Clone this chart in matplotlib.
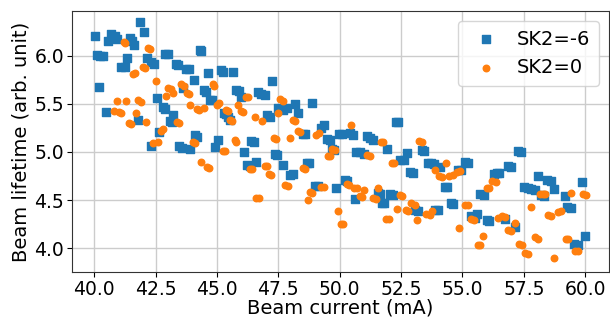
import matplotlib
matplotlib.use("Agg")
import matplotlib.pyplot as plt
import numpy as np

# SK2=-6 (blue squares)
x_sk2_m6 = [40.03, 40.10, 40.22, 40.35, 40.20, 40.46, 40.56, 40.70, 40.83, 40.94,
            41.07, 41.24, 41.34, 41.45, 41.52, 41.63, 41.79, 41.87, 42.01, 42.14,
            42.31, 42.33, 42.45, 42.54, 42.62, 42.80, 42.87, 42.90, 43.00, 43.07,
            43.16, 43.21, 43.31, 43.40, 43.44, 43.56, 43.62, 43.72, 43.84, 43.89,
            44.05, 44.12, 44.19, 44.30, 44.36, 44.46, 44.56, 44.62, 44.71, 44.78,
            44.90, 45.04, 45.18, 45.25, 45.28, 45.37, 45.44, 45.51, 45.67, 45.79,
            45.89, 45.99, 46.12, 46.23, 46.36, 46.38, 46.50, 46.57, 46.67, 46.81,
            46.95, 47.04, 47.14, 47.23, 47.35, 47.44, 47.49, 47.68, 47.69, 47.85,
            47.96, 48.09, 48.17, 48.29, 48.50, 48.57, 48.65, 48.76, 48.86, 49.00,
            49.11, 49.22, 49.34, 49.47, 49.59, 49.69, 49.78, 49.86, 49.97, 50.08,
            50.20, 50.30, 50.40, 50.52, 50.62, 50.67, 50.81, 50.97, 51.13, 51.24,
            51.37, 51.55, 51.66, 51.73, 51.80, 51.92, 52.06, 52.19, 52.31, 52.38,
            52.47, 52.60, 52.73, 52.85, 52.97, 53.08, 53.18, 53.34, 53.43, 53.60,
            53.73, 53.83, 53.87, 53.99, 54.07, 54.30, 54.37, 54.52, 54.61, 54.80,
            54.93, 55.09, 55.21, 55.36, 55.50, 55.58, 55.71, 55.87, 55.98, 56.10,
            56.27, 56.39, 56.48, 56.74, 56.86, 56.99, 57.15, 57.26, 57.40, 57.52,
            57.66, 57.81, 57.95, 58.06, 58.20, 58.31, 58.44, 58.59, 58.74, 59.16,
            59.27, 59.44, 59.56, 59.71, 59.85, 59.99]
y_sk2_m6 = [6.21, 6.01, 6.00, 6.00, 5.68, 5.42, 6.15, 6.23, 6.21, 6.175,
            5.88, 5.88, 5.975, 6.18, 6.155, 6.11, 5.33, 6.35, 6.25, 5.98,
            5.065, 5.94, 5.91, 5.56, 5.21, 5.47, 5.45, 6.02, 6.02, 5.32,
            5.31, 5.385, 5.91, 5.90, 5.065, 5.04, 5.67, 5.86, 5.86, 5.03,
            5.75, 5.175, 5.16, 6.06, 6.05, 5.64, 5.62, 5.82, 5.54, 5.54,
            5.055, 5.12, 5.85, 5.83, 5.41, 5.39, 5.36, 5.33, 5.83, 5.645,
            5.635, 5.575, 5.00, 4.865, 4.855, 5.11, 5.10, 4.90, 5.62, 5.605,
            5.59, 5.385, 5.36, 5.735, 4.975, 4.965, 5.46, 5.44, 4.865, 5.46,
            4.765, 4.77, 5.495, 5.41, 5.19, 5.19, 4.89, 4.89, 5.505, 4.65,
            4.645, 5.25, 5.275, 5.135, 5.125, 5.035, 5.02, 4.62, 5.19, 5.19,
            4.71, 4.70, 5.195, 5.18, 4.51, 5.00, 4.995, 4.98, 5.165, 5.14,
            5.125, 4.57, 4.56, 4.47, 4.47, 5.035, 4.565, 4.555, 5.31, 5.31,
            4.92, 4.915, 4.99, 4.79, 4.78, 4.395, 4.39, 5.02, 5.01, 4.885,
            4.885, 4.875, 4.40, 4.395, 4.84, 4.64, 4.64, 4.47, 4.46, 4.81,
            4.81, 4.90, 4.89, 4.33, 4.31, 4.36, 4.565, 4.55, 4.29, 4.28,
            4.77, 4.78, 4.78, 4.30, 4.85, 4.84, 4.22, 5.01, 5.00, 4.635,
            4.62, 4.61, 4.60, 4.755, 4.55, 4.54, 4.71, 4.70, 4.61, 4.54,
            4.43, 4.42, 4.045, 4.035, 4.69, 4.13]

# SK2=0 (orange circles)
x_sk2_0 = [40.80, 40.94, 40.99, 41.10, 41.21, 41.27, 41.30, 41.40, 41.48, 41.58,
           41.64, 41.71, 41.78, 41.89, 41.98, 42.05, 42.09, 42.19, 42.26, 42.39,
           42.52, 42.59, 42.73, 42.80, 42.93, 43.00, 43.14, 43.20, 43.37, 43.45,
           43.52, 43.65, 43.78, 43.87, 43.92, 44.03, 44.09, 44.18, 44.28, 44.33,
           44.48, 44.60, 44.69, 44.82, 44.89, 44.98, 45.10, 45.24, 45.33, 45.37,
           45.44, 45.52, 45.61, 45.72, 45.78, 45.87, 45.99, 46.05, 46.19, 46.26,
           46.33, 46.42, 46.56, 46.60, 46.72, 46.83, 46.95, 47.03, 47.12, 47.20,
           47.34, 47.41, 47.48, 47.56, 47.67, 47.79, 47.89, 47.96, 48.09, 48.17,
           48.31, 48.40, 48.50, 48.57, 48.70, 48.80, 48.88, 49.04, 49.15, 49.22,
           49.36, 49.53, 49.62, 49.70, 49.79, 49.92, 50.04, 50.13, 50.29, 50.39,
           50.47, 50.59, 50.70, 50.81, 50.91, 51.00, 51.12, 51.22, 51.34, 51.46,
           51.55, 51.67, 51.77, 51.90, 52.02, 52.12, 52.22, 52.33, 52.44, 52.55,
           52.70, 52.80, 52.91, 53.05, 53.15, 53.24, 53.37, 53.52, 53.66, 53.77,
           53.90, 54.06, 54.18, 54.33, 54.47, 54.60, 54.76, 54.87, 54.88, 55.09,
           55.22, 55.36, 55.45, 55.63, 55.73, 55.84, 55.98, 56.09, 56.22, 56.35,
           56.46, 56.59, 56.72, 56.86, 56.99, 57.13, 57.31, 57.41, 57.53, 57.66,
           57.78, 57.94, 58.07, 58.15, 58.28, 58.35, 58.48, 58.60, 58.73, 58.89,
           59.01, 59.21, 59.31, 59.43, 59.58, 59.72, 59.90, 60.02]
y_sk2_0 = [5.43, 5.53, 5.415, 5.41, 6.14, 6.13, 5.53, 5.30, 5.295, 5.81,
           5.82, 5.40, 5.54, 5.52, 5.88, 5.87, 5.315, 6.08, 6.07, 5.09,
           5.735, 5.105, 5.22, 5.235, 5.58, 5.67, 5.655, 5.615, 5.31, 5.30,
           5.71, 5.69, 5.615, 5.60, 5.485, 5.10, 5.09, 5.445, 5.435, 4.90,
           5.455, 4.84, 4.83, 5.71, 5.69, 5.49, 5.51, 5.015, 5.005, 5.44,
           5.43, 5.33, 5.32, 5.12, 5.105, 5.485, 5.43, 5.415, 5.57, 5.575,
           4.82, 4.82, 5.36, 4.525, 4.52, 5.32, 4.85, 4.85, 4.77, 4.76,
           5.14, 5.13, 5.40, 5.55, 5.53, 4.66, 4.65, 5.145, 5.33, 5.32,
           5.22, 5.21, 4.83, 4.825, 4.505, 4.585, 4.575, 5.18, 5.195, 4.64,
           4.64, 4.96, 4.96, 5.03, 5.025, 4.39, 4.25, 4.25, 4.67, 4.66,
           5.285, 4.63, 4.625, 4.54, 4.535, 4.60, 4.97, 4.955, 4.52, 4.515,
           4.63, 5.105, 5.10, 4.30, 4.30, 4.89, 4.89, 4.405, 4.55, 4.54,
           4.40, 4.39, 4.465, 4.45, 4.29, 5.11, 5.10, 4.35, 4.34, 4.39,
           4.81, 4.755, 4.74, 4.89, 4.755, 4.765, 4.79, 4.21, 4.80, 4.45,
           4.45, 4.30, 4.29, 4.035, 4.035, 4.13, 4.62, 4.625, 4.70, 4.69,
           4.31, 4.33, 4.32, 4.19, 4.18, 4.265, 4.04, 4.035, 3.95, 3.94,
           4.43, 4.12, 4.10, 4.56, 4.56, 4.56, 4.34, 4.33, 3.90, 4.38,
           4.39, 4.095, 4.095, 4.57, 3.975, 3.97, 4.56, 4.55]

label_m6 = "SK2=-6"
label_0 = "SK2=0"
xlabel = "Beam current (mA)"
ylabel = "Beam lifetime (arb. unit)"

plt.rcParams['font.family'] = ['DejaVu Sans']
fig = plt.figure(figsize=(6.10, 3.18), dpi=100)
ax = fig.add_axes([0.1175, 0.145, 0.8805, 0.82])

ax.scatter(x_sk2_m6, y_sk2_m6, marker='s', s=26, color='#1f77b4', label=label_m6, zorder=3)
ax.scatter(x_sk2_0, y_sk2_0, marker='o', s=22, color='#ff7f0e', label=label_0, zorder=3)

ax.set_xlim(39.08, 60.96)
ax.set_ylim(3.753, 6.464)
ax.set_xticks(np.arange(40, 60.01, 2.5))
ax.set_yticks(np.arange(4.0, 6.01, 0.5))
ax.xaxis.set_major_formatter(matplotlib.ticker.FormatStrFormatter('%.1f'))
ax.yaxis.set_major_formatter(matplotlib.ticker.FormatStrFormatter('%.1f'))
ax.grid(True, color='#cccccc', linewidth=1.0)
ax.set_axisbelow(True)
ax.tick_params(labelsize=13.5, pad=2)
ax.set_xlabel(xlabel, fontsize=14, labelpad=0)
ax.set_ylabel(ylabel, fontsize=14, labelpad=3)
for sp in ax.spines.values():
    sp.set_color('#333333')
ax.legend(loc='upper right', fontsize=14, scatterpoints=1, borderpad=0.45,
          handletextpad=0.6)

fig.savefig("out.png", dpi=100)
